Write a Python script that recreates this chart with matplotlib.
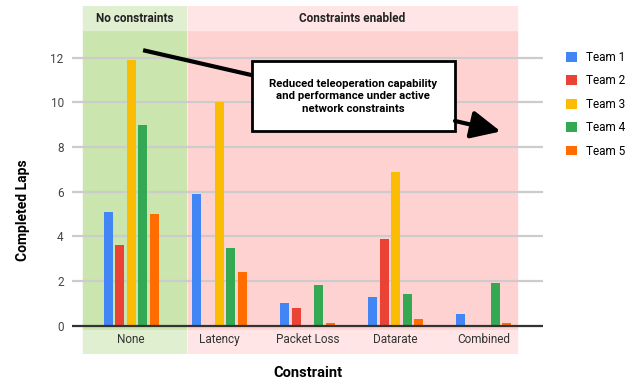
import numpy as np
import matplotlib
matplotlib.use("Agg")
import matplotlib.pyplot as plt
from matplotlib.patches import Rectangle, Patch

plt.rcParams['font.family'] = ['Roboto', 'DejaVu Sans']

constraints = ['None', 'Latency', 'Packet Loss', 'Datarate', 'Combined']
teams = ['Team 1', 'Team 2', 'Team 3', 'Team 4', 'Team 5']
team1 = [5.1, 5.9, 1.0, 1.3, 0.5]
team2 = [3.6, 0.0, 0.8, 3.9, 0.0]
team3 = [11.9, 10.0, 0.0, 6.9, 0.0]
team4 = [9.0, 3.5, 1.8, 1.4, 1.9]
team5 = [5.0, 2.4, 0.1, 0.3, 0.1]
colors = ['#4285F4', '#EA4335', '#FBBC04', '#34A853', '#FF6D01']

fig = plt.figure(figsize=(6.36, 3.83), dpi=100)
ax = fig.add_axes([72 / 636, 29 / 383, 471 / 636, 348 / 383])
ax.set_xlim(-0.67, 4.67)
ax.set_ylim(-1.27, 14.32)
for s in ax.spines.values():
    s.set_visible(False)

# background zones: plot area, header strip and category strip
ax.add_patch(Rectangle((-0.544, -0.19), 1.168, 13.43, color='#CAE5AD', zorder=0))
ax.add_patch(Rectangle((-0.544, 13.24), 1.168, 1.08, color='#DFEFCF', zorder=0))
ax.add_patch(Rectangle((-0.544, -1.27), 1.168, 1.08, color='#DFEFCF', zorder=0))
ax.add_patch(Rectangle((0.646, -0.19), 3.73, 13.43, color='#FFD2D2', zorder=0))
ax.add_patch(Rectangle((0.646, 13.24), 3.73, 1.08, color='#FFE5E5', zorder=0))
ax.add_patch(Rectangle((0.646, -1.27), 3.73, 1.08, color='#FFE5E5', zorder=0))

for g in range(2, 13, 2):
    ax.axhline(g, color='#CCCCCC', lw=1.6, zorder=1)
ax.axhline(0, color='#333333', lw=1.6, zorder=4)

x = np.arange(len(constraints))
series = [team1, team2, team3, team4, team5]
for j, (vals, c) in enumerate(zip(series, colors)):
    ax.bar(x + (j - 2) * 0.13, vals, width=0.102, color=c, zorder=3)

ax.set_yticks(range(0, 13, 2))
ax.set_xticks([])
ax.tick_params(axis='y', length=0, pad=6, labelsize=8.5, labelcolor='#444444')

for xi, name in zip(x, constraints):
    ax.text(xi, -0.64, name, ha='center', va='center', fontsize=8.5, color='#333333')

ax.text(0.04, 13.78, 'No constraints', ha='center', va='center',
        fontsize=8.5, fontweight='bold', color='#222222')
ax.text(2.51, 13.78, 'Constraints enabled', ha='center', va='center',
        fontsize=8.5, fontweight='bold', color='#222222')

# callout
ax.plot([0.136, 1.372], [12.34, 11.22], color='black', lw=3, zorder=5,
        solid_capstyle='butt')
ax.add_patch(Rectangle((1.372, 8.72), 2.30, 3.13, facecolor='white',
                       edgecolor='black', lw=2, zorder=6))
ax.text(2.52, 10.28, 'Reduced teleoperation capability\nand performance under active\nnetwork constraints',
        ha='center', va='center', fontsize=8.2, fontweight='bold',
        linespacing=1.3, zorder=7)
ax.annotate('', xy=(4.19, 8.7), xytext=(3.672, 9.17),
            arrowprops=dict(arrowstyle='-|>,head_length=1.8,head_width=0.85',
                            color='black', lw=3, shrinkA=0, shrinkB=0),
            zorder=7)

ax.set_ylabel('Completed Laps', fontsize=10, fontweight='bold')
ax.yaxis.set_label_coords(-0.09, 0.414)
fig.text(308 / 636, 1 - 373 / 383, 'Constraint', ha='center', va='center',
         fontsize=10.5, fontweight='bold')

handles = [Patch(facecolor=c, edgecolor='none') for c in colors]
fig.legend(handles, teams, loc='upper left', bbox_to_anchor=(566 / 636, 1 - 51 / 383),
           frameon=False, fontsize=8.5, handlelength=0.9, handleheight=0.9,
           handletextpad=0.8, labelspacing=0.88, borderpad=0, borderaxespad=0)

fig.savefig('out.png', dpi=100)
